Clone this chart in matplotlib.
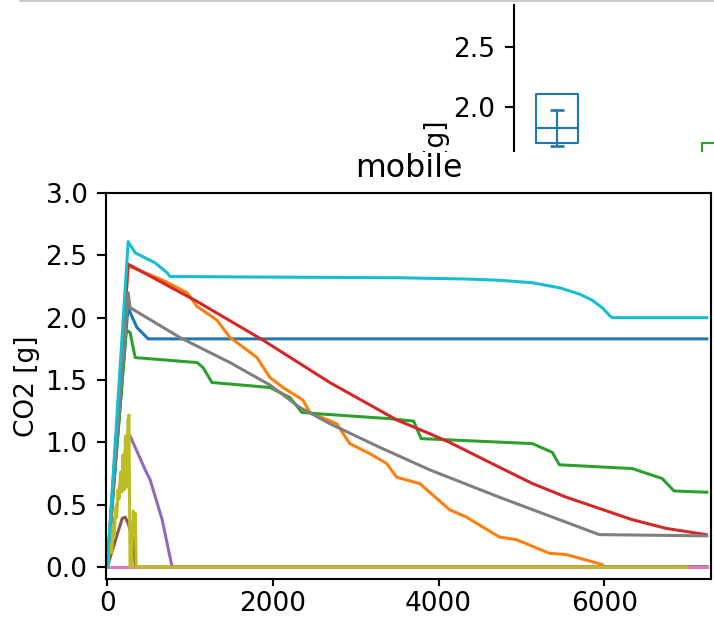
import matplotlib
matplotlib.use("Agg")
import matplotlib.pyplot as plt
from matplotlib.patches import Rectangle
from matplotlib.lines import Line2D

# ---------------- data (main "mobile" panel) ----------------
blue_x = [0, 253, 277, 360, 494, 7240]
blue_y = [0, 2.10, 2.04, 1.92, 1.83, 1.83]

orange_x = [0, 253, 277, 675, 964, 1085, 1325, 1482, 1567, 1808, 1964, 2121, 2362, 2446,
            2771, 2928, 3169, 3374, 3495, 3772, 4133, 4338, 4736, 4940, 5338, 5543, 5977, 6000, 7240]
orange_y = [0, 2.42, 2.41, 2.30, 2.20, 2.09, 1.98, 1.84, 1.80, 1.68, 1.52, 1.44, 1.34, 1.24,
            1.15, 0.99, 0.91, 0.83, 0.72, 0.67, 0.46, 0.40, 0.24, 0.22, 0.11, 0.10, 0.02, 0.0, 0.0]

green_x = [0, 230, 277, 337, 1085, 1157, 1265, 1964, 2205, 2350, 2530, 3410, 3700, 3790,
           5133, 5374, 5459, 6338, 6700, 6844, 7240]
green_y = [0, 1.90, 1.88, 1.68, 1.64, 1.60, 1.48, 1.44, 1.36, 1.24, 1.23, 1.19, 1.17, 1.03,
           0.99, 0.92, 0.82, 0.79, 0.71, 0.61, 0.60]

red_x = [0, 253, 277, 1085, 1880, 2687, 3495, 3892, 4133, 4736, 5133, 5543, 5941, 6338, 6748, 7230]
red_y = [0, 2.43, 2.42, 2.13, 1.82, 1.48, 1.18, 1.07, 1.00, 0.80, 0.67, 0.56, 0.47, 0.38, 0.31, 0.26]

purple_x = [0, 253, 277, 458, 518, 663, 783, 7240]
purple_y = [0, 1.07, 1.05, 0.78, 0.70, 0.38, 0.0, 0.0]

brown_x = [0, 120, 181, 217, 253, 301, 325, 337, 7240]
brown_y = [0, 0.26, 0.39, 0.40, 0.35, 0.24, 0.19, 0.0, 0.0]

pink_x = [0, 7240]
pink_y = [0, 0]

gray_x = [0, 253, 277, 880, 1482, 1964, 2326, 2687, 3290, 3892, 4735, 5940, 7240]
gray_y = [0, 2.20, 2.08, 1.84, 1.64, 1.46, 1.28, 1.15, 0.96, 0.78, 0.56, 0.26, 0.25]

olive_x = [0, 40, 55, 70, 85, 100, 115, 130, 145, 160, 175, 190, 205, 220, 235, 250,
           262, 275, 290, 315, 325, 337, 350, 7000]
olive_y = [0, 0.19, 0.12, 0.33, 0.25, 0.47, 0.40, 0.62, 0.55, 0.76, 0.60, 0.90, 0.62, 1.05,
           0.64, 1.18, 1.22, 0.0, 0.0, 0.45, 0.30, 0.43, 0.0, 0.0]

cyan_x = [0, 253, 337, 578, 723, 760, 3531, 4338, 4736, 5133, 5459, 5700, 5856, 5977, 6061,
          6097, 7240]
cyan_y = [0, 2.61, 2.52, 2.44, 2.36, 2.33, 2.32, 2.31, 2.30, 2.28, 2.24, 2.19, 2.14, 2.08,
          2.02, 2.00, 2.00]

series = [
    (blue_x, blue_y, "C0"), (orange_x, orange_y, "C1"), (green_x, green_y, "C2"),
    (red_x, red_y, "C3"), (purple_x, purple_y, "C4"), (brown_x, brown_y, "C5"),
    (pink_x, pink_y, "C6"), (gray_x, gray_y, "C7"), (olive_x, olive_y, "C8"),
    (cyan_x, cyan_y, "C9"),
]

yticks = [0.0, 0.5, 1.0, 1.5, 2.0, 2.5, 3.0]
xticks = [0, 2000, 4000, 6000]

# ---------------- data (partially visible panel above) ----------------
box_stats = [
    {"med": 1.825, "q1": 1.70, "q3": 2.108, "whislo": 1.70, "whishi": 2.108, "fliers": []},
    {"med": 1.45, "q1": 1.20, "q3": 1.70, "whislo": 1.20, "whishi": 1.70, "fliers": []},
]
box_colors = ["C0", "C2"]
err_mean = 1.825
err_sd = 0.15
top_yticks = [2.0, 2.5]

W, H, DPI = 714, 619, 190
fig = plt.figure(figsize=(W / DPI, H / DPI), dpi=DPI)

# ---- background fragment of another figure ----
ax2 = fig.add_axes([514 / W, (H - 152) / H, (W - 514) / W, 147 / H], zorder=0)
bp = ax2.bxp(box_stats, positions=[1, 2], widths=0.253, showcaps=False,
             showfliers=False, patch_artist=False, manage_ticks=False)
for i, c in enumerate(box_colors):
    bp["boxes"][i].set(color=c, lw=0.8)
    bp["medians"][i].set(color=c, lw=0.8)
    bp["whiskers"][2 * i].set(color=c, lw=0.8)
    bp["whiskers"][2 * i + 1].set(color=c, lw=0.8)
ax2.errorbar([1], [err_mean], yerr=[[err_sd], [err_sd]], color="C0", lw=0.8,
             capsize=2.5, fmt="none")
ax2.set_xlim(0.741, 1.946)
ax2.set_ylim(1.625, 2.85)
ax2.set_yticks(top_yticks)
ax2.set_xticks([])
for s in ["top", "right", "bottom"]:
    ax2.spines[s].set_visible(False)
fig.text(437 / W, (H - 171) / H, "CO2 [g]", rotation=90, ha="center", va="center",
         fontsize=10, zorder=0.5)
fig.add_artist(Line2D([20 / W, 1], [1 - 1.0 / H, 1 - 1.0 / H], color="#bbbbbb", lw=0.6,
                      zorder=0.5))

# white sheet of the main figure lying over it
fig.add_artist(Rectangle((0, 0), 1, (H - 152) / H, transform=fig.transFigure,
                         facecolor="white", edgecolor="none", zorder=1.5))

# ---- main panel ----
ax = fig.add_axes([106 / W, (H - 579) / H, (711 - 106) / W, (579 - 193) / H], zorder=2)
for xs, ys, c in series:
    ax.plot(xs, ys, color=c, lw=1.15)
ax.set_xlim(-15, 7290)
ax.set_ylim(-0.096, 3.0)
ax.set_yticks(yticks)
ax.set_xticks(xticks)
ax.tick_params(axis="x", length=2.5, pad=2.0)
ax.set_title("mobile")
ax.set_ylabel("CO2 [g]", labelpad=2)

fig.savefig("out.png", dpi=DPI)
